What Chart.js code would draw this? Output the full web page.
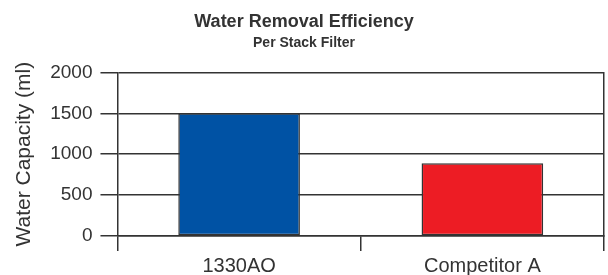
<!DOCTYPE html>
<html>
<head>
<meta charset="utf-8">
<script src="https://cdn.jsdelivr.net/npm/chart.js@4.4.0/dist/chart.umd.min.js"></script>
<style>
  html, body { margin: 0; padding: 0; background: #fff; }
  #wrap { width: 608px; height: 275px; }
</style>
</head>
<body>
<div id="wrap"><canvas id="myChart"></canvas></div>
<script>
const categories = ['1330AO', 'Competitor A'];
const capacity = [1500, 890];
const barColors = ['#0052a4', '#ed1c24'];
const yTicks = [0, 500, 1000, 1500, 2000];

const ink = '#333333';

const ctx = document.getElementById('myChart').getContext('2d');

new Chart(ctx, {
  type: 'bar',
  data: {
    labels: categories,
    datasets: [{
      data: capacity,
      backgroundColor: barColors,
      borderColor: ink,
      borderWidth: 1.5,
      borderSkipped: false,
      barPercentage: 0.5,
      categoryPercentage: 1
    }]
  },
  options: {
    responsive: true,
    maintainAspectRatio: false,
    animation: false,
    // negative bottom padding lets the x labels sit a bit lower
    layout: { padding: { left: 4, right: 4, top: 0, bottom: -6 } },
    scales: {
      x: {
        grid: {
          offset: true,
          drawOnChartArea: false,
          color: ink,
          lineWidth: 1.5,
          tickLength: 15
        },
        border: { color: ink, width: 1.5 },
        ticks: {
          color: ink,
          padding: 5,
          font: { family: 'Liberation Sans', size: 20, lineHeight: 1 }
        }
      },
      y: {
        min: 0,
        max: 2000,
        afterBuildTicks: axis => { axis.ticks = yTicks.map(v => ({ value: v })); },
        grid: { color: ink, lineWidth: 1.5, tickLength: 17 },
        border: { color: ink, width: 1.5 },
        ticks: {
          color: ink,
          padding: 8,
          callback: v => String(v),
          font: { family: 'Liberation Sans', size: 19 }
        },
        title: {
          display: true,
          text: 'Water Capacity (ml)',
          color: ink,
          padding: { top: 8, bottom: 5 },
          font: { family: 'Liberation Sans', size: 21 }
        }
      },
      yRight: {
        position: 'right',
        min: 0,
        max: 2000,
        grid: { display: false, drawTicks: false },
        border: { display: true, color: ink, width: 1.5 },
        ticks: { display: false }
      }
    },
    plugins: {
      legend: { display: false },
      tooltip: { enabled: false },
      title: {
        display: true,
        text: 'Water Removal Efficiency',
        color: ink,
        padding: { top: 11, bottom: 2 },
        font: { family: 'Liberation Sans', size: 18, weight: 'bold' }
      },
      subtitle: {
        display: true,
        text: 'Per Stack Filter',
        color: ink,
        padding: { top: 0, bottom: 21 },
        font: { family: 'Liberation Sans', size: 14, weight: 'bold' }
      }
    }
  }
});
</script>
</body>
</html>
